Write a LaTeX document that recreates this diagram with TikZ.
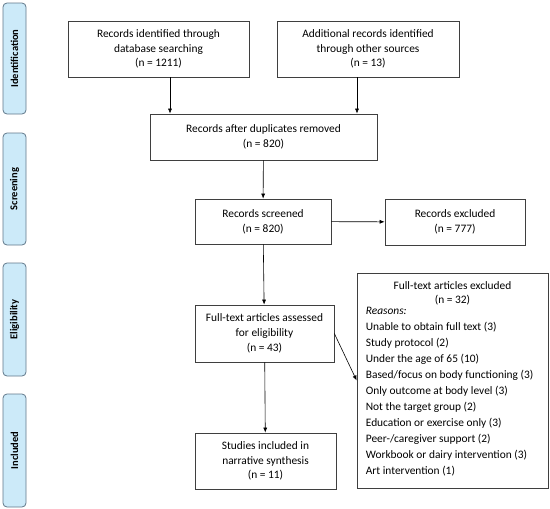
\documentclass[tikz,border=0pt]{standalone}
\usepackage{fontspec}
\setmainfont{Carlito}
\usetikzlibrary{arrows.meta, positioning, calc}
\definecolor{phaseFill}{HTML}{CCEAF9}
\definecolor{phaseLine}{HTML}{61788A}
\definecolor{boxLine}{HTML}{3F3F3F}

\begin{document}
\begin{tikzpicture}[x=1pt, y=-1pt,
    phase/.style={draw=phaseLine, fill=phaseFill, rounded corners=4pt, line width=0.8pt,
      minimum width=23pt, inner sep=0pt, font=\fontsize{10.5}{12}\selectfont\bfseries},
    flowbox/.style={draw=boxLine, line width=0.7pt, align=center, inner sep=2pt,
      font=\fontsize{11.4}{14.8}\selectfont},
    arr/.style={-{Latex[length=5pt, width=4pt]}, line width=0.6pt}]
  \useasboundingbox (0,0) rectangle (550,509);
  % fases
  \node[phase, minimum height=111pt] (idphase) at (14.5,58.5) {\rotatebox{90}{Identification}};
  \node[phase, minimum height=112pt] (scphase) at (14.5,189) {\rotatebox{90}{Screening}};
  \node[phase, minimum height=113pt] (elphase) at (14.5,319.5) {\rotatebox{90}{Eligibility}};
  \node[phase, minimum height=113pt] (inphase) at (14.5,450.5) {\rotatebox{90}{Included}};
  % cajas
  \node[flowbox, minimum width=181pt, minimum height=56pt] (db) at (158.5,49)
    {Records identified through\\database searching\\(n = 1211)};
  \node[flowbox, minimum width=182pt, minimum height=56pt] (other) at (368,49)
    {Additional records identified\\through other sources\\(n = 13)};
  \node[flowbox, minimum width=227pt, minimum height=46pt] (dup) at (263.5,137)
    {Records after duplicates removed\\(n = 820)};
  \node[flowbox, minimum width=136pt, minimum height=45pt] (screened) at (263,221.5)
    {Records screened\\(n = 820)};
  \node[flowbox, minimum width=140pt, minimum height=46pt] (excl) at (455,222)
    {Records excluded\\(n = 777)};
  \node[flowbox, minimum width=139pt, minimum height=57pt] (fulltext) at (264.5,333.5)
    {Full-text articles assessed\\for eligibility\\(n = 43)};
  \node[flowbox, minimum width=141pt, minimum height=56pt] (incl) at (265.5,461)
    {Studies included in\\narrative synthesis\\(n = 11)};
  \node[flowbox, minimum width=191pt, minimum height=215pt] (ftex) at (452.5,380.5) {};
  \node[font=\fontsize{11.4}{14.8}\selectfont, align=center, below=5pt of ftex.north] (ftexhead)
    {Full-text articles excluded\\(n = 32)};
  \node[font=\fontsize{11.4}{16}\selectfont, align=left, anchor=north west, inner sep=0pt]
    (reasons) at ([xshift=9pt, yshift=2pt]ftexhead.south -| ftex.west)
    {\textit{Reasons:}\\
     Unable to obtain full text (3)\\
     Study protocol (2)\\
     Under the age of 65 (10)\\
     Based/focus on body functioning (3)\\
     Only outcome at body level (3)\\
     Not the target group (2)\\
     Education or exercise only (3)\\
     Peer-/caregiver support (2)\\
     Workbook or dairy intervention (3)\\
     Art intervention (1)};
  % flechas
  \draw[arr] ([xshift=11.5pt]db.south) -- ([xshift=11.5pt]db.south |- dup.north);
  \draw[arr] ([xshift=-11pt]other.south) -- ([xshift=-11pt]other.south |- dup.north);
  \draw[arr] (dup) -- (screened);
  \draw[arr] (screened) -- (excl);
  \draw[arr] (screened) -- (fulltext);
  \draw[arr] (fulltext) -- (incl);
  \draw[arr] (fulltext.east) -- (ftex.west);
\end{tikzpicture}
\end{document}
